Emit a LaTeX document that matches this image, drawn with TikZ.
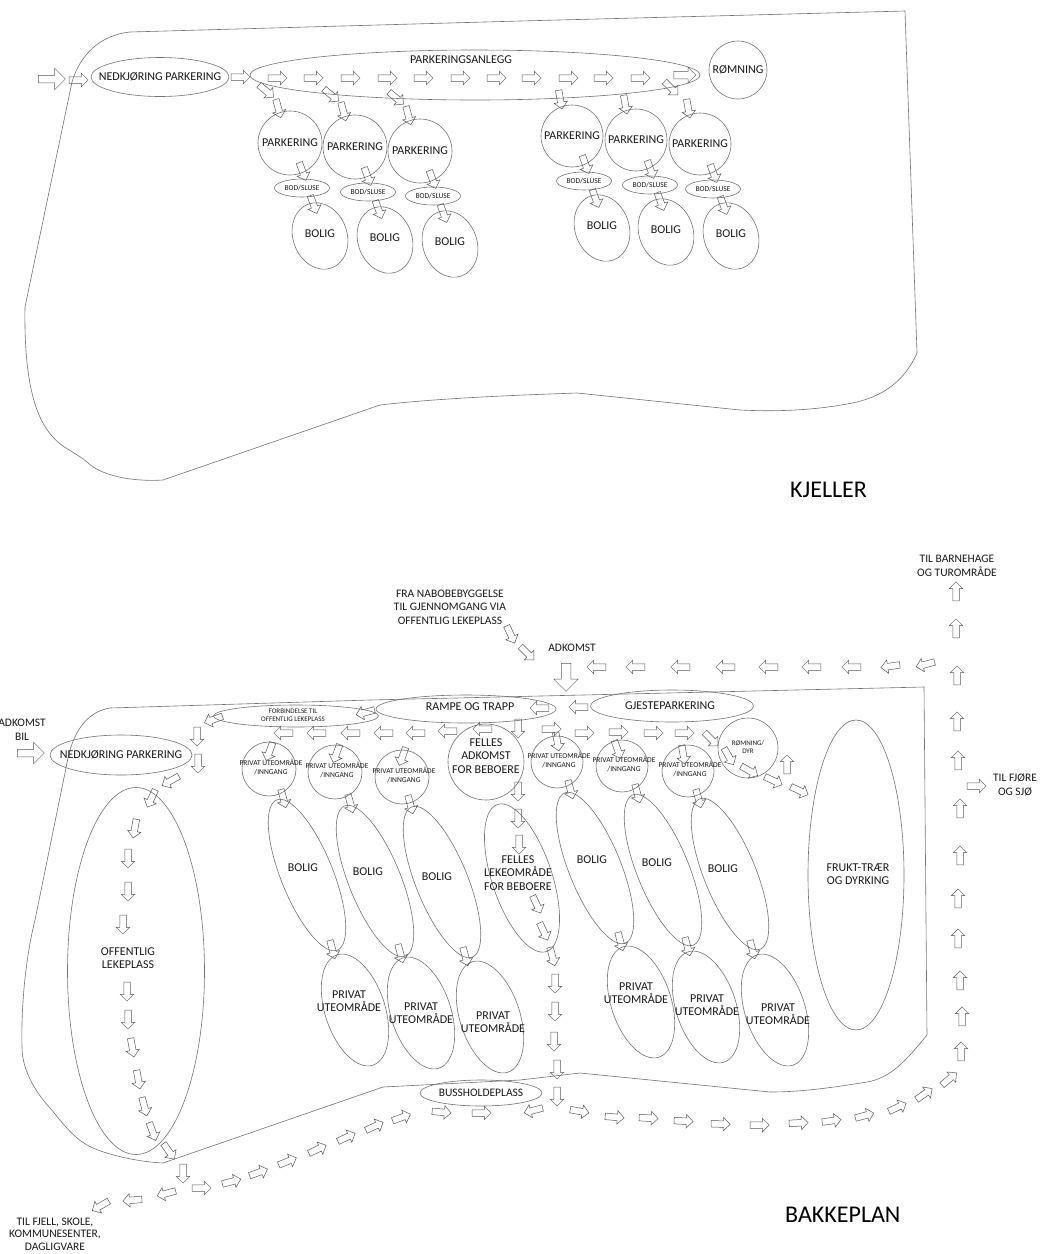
\documentclass[tikz,border=0pt]{standalone}
\usepackage{fontspec}
\setmainfont{Carlito}
\usetikzlibrary{shapes.geometric,shapes.arrows}
\begin{document}
\begin{tikzpicture}[x=1pt,y=-1pt,
 outl/.style={draw=black!55,line width=0.6pt},
 arr/.style={single arrow,draw=black!65,line width=0.5pt,inner xsep=0pt,inner ysep=3pt,minimum height=19pt,single arrow head extend=3.5pt,single arrow head indent=0pt},
 bigarr/.style={arr,inner ysep=3.5pt,minimum height=27pt,single arrow head extend=7pt},
 midarr/.style={arr,inner ysep=3.5pt,minimum height=22pt,single arrow head extend=4pt},
 bigdn/.style={arr,inner ysep=4.5pt,minimum height=28pt,single arrow head extend=7.5pt},
 ell/.style={ellipse,draw=black!55,line width=0.6pt,inner sep=0pt},
 circ/.style={circle,draw=black!55,line width=0.6pt,inner sep=0pt},
 big/.style={text=black!90,align=center,inner sep=0pt,font=\fontsize{12}{13.5}\selectfont},
 lab/.style={text=black!90,align=center,inner sep=0pt,font=\fontsize{11.5}{13.5}\selectfont},
 lab2/.style={text=black!90,align=center,inner sep=0pt,font=\fontsize{11.5}{12.5}\selectfont},
 pu/.style={text=black!90,align=center,inner sep=0pt,font=\fontsize{12}{12.5}\selectfont},
 sm/.style={text=black!90,align=center,inner sep=0pt,font=\fontsize{7.5}{9}\selectfont},
 tiny/.style={text=black!90,align=center,inner sep=0pt,font=\fontsize{7}{8}\selectfont},
 title/.style={text=black,inner sep=0pt,anchor=west,font=\fontsize{24}{26}\selectfont}
]
\useasboundingbox (0,0) rectangle (1048,1254);

% ================= KJELLER =================
\draw[outl] (130,32) -- (520,21) -- (905,11) -- (917,353)
  .. controls (905,380) and (885,395) .. (857,402)
  .. controls (820,410) and (780,412) .. (740,410) -- (577,393)
  .. controls (520,395) and (440,398) .. (380,405) -- (163,480)
  .. controls (130,482) and (100,475) .. (87,462)
  .. controls (75,452) and (62,448) .. (53,437)
  .. controls (32,415) and (24,370) .. (25,307) -- (72,82)
  .. controls (80,55) and (100,35) .. (130,32);

\node[ell,minimum width=138,minimum height=39] (knp) at (160,77) {};
\node[big] (knpt) at (160,77) {NEDKJØRING PARKERING};
\node[ell,minimum width=450,minimum height=50] (kpa) at (475,75) {};
\node[big] (kpat) at (461,60) {PARKERINGSANLEGG};
\node[circ,minimum size=58] (krm) at (738,70) {};
\node[big] (krmt) at (738,70) {RØMNING};

\foreach \x/\y/\d [count=\i] in {290/143/64,355/147/64,420/151/64,572/136/62,636/140/62,700/144/62}
 {\node[circ,minimum size=\d] (kp\i) at (\x,\y) {};
  \node[big] (kpt\i) at (\x,\y) {PARKERING};}
\foreach \x/\y [count=\i] in {302/188,368/192,433/196,584/181,650/185,713/189}
 {\node[ell,minimum width=55,minimum height=18] (kb\i) at (\x,\y) {};
  \node[sm] (kbt\i) at (\x,\y) {BOD/SLUSE};}
\foreach \x/\y [count=\i] in {320/236,385/240,450/244,602/228,666/232,731/236}
 {\node[ell,minimum width=68,minimum height=54,rotate=-70] (kh\i) at (\x,\y) {};
  \node[big] (kht\i) at (\x,\y-2) {BOLIG};}

\node[bigarr] (k1) at (50,79) {};
\node[arr] (k2) at (77,80) {};
\node[arr] (k3) at (239,77) {};
\foreach \x [count=\i] in {276,312,349,386,422,459,495,530,567,602,639}
 {\node[arr] (kr\i) at (\x,78) {};}
\node[midarr] (kr12) at (683,75) {};
\foreach \x/\y/\a [count=\i] in {265/90/-40,330/94/-40,395/97/-40,278/107/-75,343/110/-75,408/114/-75,560/98/-80,625/103/-80,688/107/-80,670/87/-45,
  302/170/-70,367/175/-70,432/178/-70,585/163/-70,650/168/-70,713/172/-70,
  313/203/-70,378/208/-70,443/212/-70,595/197/-70,660/200/-70,723/204/-70}
 {\node[arr,rotate=\a] (kd\i) at (\x,\y) {};}

\node[title] (kjt) at (790,490) {KJELLER};

% ================= BAKKEPLAN =================
\draw[outl] (110,708) -- (370,700) -- (924,687) -- (927,1035)
  .. controls (905,1062) and (890,1078) .. (867,1082)
  .. controls (830,1088) and (800,1092) .. (770,1092) -- (580,1073) -- (520,1080) -- (383,1087) -- (163,1163)
  .. controls (140,1162) and (105,1155) .. (87,1145)
  .. controls (70,1135) and (58,1117) .. (50,1108)
  .. controls (38,1095) and (22,1072) .. (22,1047)
  .. controls (21,1010) and (25,960) .. (35,920) -- (67,763)
  .. controls (72,735) and (85,712) .. (110,708);

% shapes
\node[ell,minimum width=142,minimum height=40] (bnp) at (121,755) {};
\node[big] (bnpt) at (121,755) {NEDKJØRING PARKERING};
\node[ell,minimum width=180,minimum height=28] (bra) at (466,709) {};
\node[big] (brat) at (470,707) {RAMPE OG TRAPP};
\node[ell,minimum width=163,minimum height=32] (bgj) at (672,706) {};
\node[big] (bgjt) at (670,706) {GJESTEPARKERING};
\node[ell,minimum width=165,minimum height=22] (bfo) at (296,716) {};
\node[tiny] (bfot) at (293,715) {FORBINDELSE TIL\\OFFENTLIG LEKEPLASS};
\node[ell,minimum width=122,minimum height=26] (bbu) at (481,1093) {};
\node[lab] (bbut) at (481,1093) {BUSSHOLDEPLASS};
\node[ell,minimum width=137,minimum height=367] (bol) at (136,971) {};
\node[big] (bolt) at (128,958) {OFFENTLIG\\LEKEPLASS};
\node[circ,minimum size=76] (bfa) at (486,762) {};
\node[big] (bfat) at (486,756) {FELLES\\ADKOMST\\FOR BEBOERE};
\node[circ,minimum size=60] (brd) at (748,748) {};
\node[tiny] (brdt) at (748,747) {RØMNING/\\DYR};
\node[ell,minimum width=96,minimum height=310] (bfr) at (856,875) {};
\node[big] (bfrt) at (858,874) {FRUKT-TRÆR\\OG DYRKING};
\node[ell,minimum width=155,minimum height=60,rotate=-71.6] (ble) at (522,878) {};
\node[big] (blet) at (518,873) {FELLES\\LEKEOMRÅDE\\FOR BEBOERE};

\foreach \x/\y/\d [count=\i] in {269/769/54,335/772/54,402/777/54,557/762/52,622/766/52,688/771/52}
 {\node[circ,minimum size=\d] (bc\i) at (\x,\y) {};
  \node[sm] (bct\i) at (\x+2,\y-2) {PRIVAT UTEOMRÅDE\\/INNGANG};}
\foreach \x/\y/\tx/\ty [count=\i] in {307/875/303/868,375/881/368/872,442/882/437/877,595/868/592/860,663/870/657/863,730/874/723/869}
 {\node[ell,minimum width=162,minimum height=52,rotate=-68] (bh\i) at (\x,\y) {};
  \node[big] (bht\i) at (\tx,\ty) {BOLIG};}
\foreach \x/\y/\tx/\ty [count=\i] in {355/1010/349/1001,421/1013/421/1013,490/1017/493/1022,641/1002/636/993,706/1007/707/1005,775/1010/778/1014}
 {\node[ell,minimum width=116,minimum height=60,rotate=-72] (bp\i) at (\x,\y) {};
  \node[pu] (bpt\i) at (\tx,\ty) {PRIVAT\\UTEOMRÅDE};}

% labels
\node[lab] (tadk) at (22,730) {ADKOMST\\BIL};
\node[lab] (tfra) at (450,607) {FRA NABOBEBYGGELSE\\TIL GJENNOMGANG VIA\\OFFENTLIG LEKEPLASS};
\node[lab] (tadk2) at (572,648) {ADKOMST};
\node[lab] (tbarn) at (957,566) {TIL BARNEHAGE\\OG TUROMRÅDE};
\node[lab] (tfj) at (1015,785) {TIL FJØRE\\OG SJØ};
\node[lab2] (tfjell) at (55,1234) {TIL FJELL, SKOLE,\\KOMMUNESENTER,\\DAGLIGVARE};
\node[title] (tbak) at (785,1215) {BAKKEPLAN};

% arrows
\node[bigarr] (ba0) at (29,753) {};
\node[bigdn,rotate=-90] (bdn) at (566,675) {};
\foreach \x/\y/\a [count=\i] in {510/633/-65,526/652/-45,
  598/667/180,637/667/180,682/667/180,727/667/180,770/667/180,813/667/180,853/667/180,892/666/188,927/664/195,
  541/708/180,580/707/180,367/712/195,215/719/200,
  197/735/-90,198/762/-90,172/780/210,152/797/245,135/827/260,128/857/-90,128/890/-90,123/923/-90,
  127/990/-90,128/1018/-90,132/1046/-80,138/1078/-80,144/1105/-75,152/1130/-70,168/1150/-55,183/1172/-90,
  168/1193/195,134/1200/185,102/1205/210,
  200/1188/0,230/1182/15,257/1173/20,286/1162/22,316/1150/25,345/1138/25,373/1127/25,400/1118/20,440/1112/-5,480/1113/0,
  535/1110/195,578/1111/-10,613/1117/-5,647/1118/-3,682/1121/-3,719/1124/-2,758/1125/0,797/1123/3,830/1121/8,863/1116/15,896/1108/25,923/1095/35,948/1080/40,
  961/1053/90,962/1018/90,960/982/90,958/940/90,958/900/90,960/857/90,960/810/90,958/762/90,957/723/90,957/677/90,956/630/90,956/593/90,
  975/786/0,
  285/733/180,318/733/180,352/733/180,385/733/180,417/733/180,449/731/180,484/729/180,518/727/-90,
  550/729/0,583/733/0,617/732/0,652/733/0,683/733/0,710/738/-45,728/755/-60,748/770/-30,772/780/-25,798/790/-25,787/766/90,
  270/750/-110,337/752/-110,403/755/-110,557/740/-80,617/748/-70,683/753/-80,
  283/797/-75,350/802/-75,410/803/-75,570/788/-75,637/792/-75,698/797/-75,
  518/790/-90,518/817/-90,519/843/-90,536/903/-65,543/930/-65,552/955/-75,555/982/-90,555/1010/-90,554/1040/-90,557/1068/-90,557/1095/-90,
  332/948/-75,400/952/-75,465/955/-75,620/940/-75,687/945/-75,752/948/-75}
 {\node[arr,rotate=\a] (ba\i) at (\x,\y) {};}
\end{tikzpicture}
\end{document}
